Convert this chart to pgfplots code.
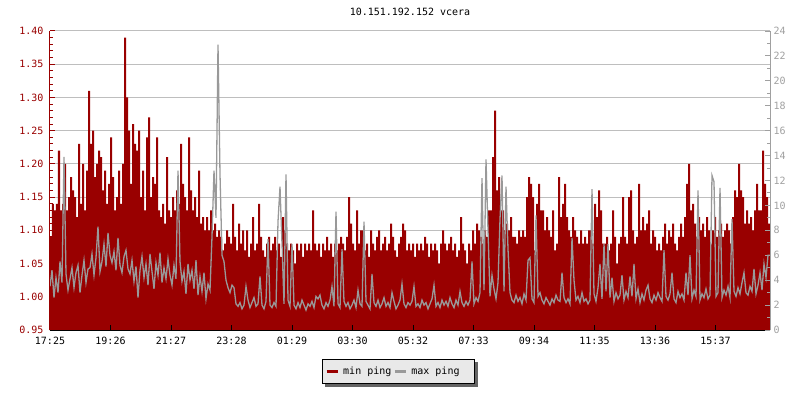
\documentclass[border=0pt]{standalone}
\usepackage{fontspec}
\setmainfont{DejaVu Sans Mono}
\usepackage{pgfplots}
\usepackage{pgfplotstable}
\pgfplotsset{compat=1.18}
\usetikzlibrary{backgrounds}
\definecolor{minred}{HTML}{990000}
\definecolor{maxgray}{HTML}{999999}
\definecolor{gridgray}{HTML}{BEBEBE}
\definecolor{rightgray}{HTML}{A0A0A0}
\definecolor{legbg}{HTML}{E9E9E9}
\definecolor{shadowgray}{HTML}{646464}
\pgfplotstableread[row sep=\\]{
t mn mx\\
0 1.09 3.5\\ 1 1.14 4.8\\ 2 1.13 2.6\\ 3 1.14 4.2\\ 4 1.22 3.0\\ 5 1.13 5.5\\ 6 1.14 3.8\\ 7 1.20 13.9\\ 8 1.13 4.5\\ 9 1.15 3.2\\
10 1.18 4.1\\ 11 1.16 5.0\\ 12 1.15 3.4\\ 13 1.12 4.6\\ 14 1.23 5.2\\ 15 1.14 3.0\\ 16 1.20 4.4\\ 17 1.13 5.6\\ 18 1.19 3.8\\ 19 1.31 4.9\\
20 1.23 5.0\\ 21 1.25 6.1\\ 22 1.18 4.4\\ 23 1.20 5.8\\ 24 1.22 8.3\\ 25 1.21 4.7\\ 26 1.16 5.5\\ 27 1.19 6.9\\ 28 1.14 5.1\\ 29 1.17 7.8\\
30 1.24 6.0\\ 31 1.18 5.4\\ 32 1.13 6.3\\ 33 1.15 4.8\\ 34 1.19 7.4\\ 35 1.14 5.2\\ 36 1.20 4.6\\ 37 1.39 5.9\\ 38 1.30 6.4\\ 39 1.25 4.9\\
40 1.17 4.5\\ 41 1.26 5.6\\ 42 1.23 3.9\\ 43 1.22 5.1\\ 44 1.25 2.6\\ 45 1.15 4.8\\ 46 1.19 5.9\\ 47 1.13 4.2\\ 48 1.24 5.3\\ 49 1.27 3.6\\
50 1.15 6.1\\ 51 1.18 4.7\\ 52 1.17 3.3\\ 53 1.24 5.4\\ 54 1.13 4.4\\ 55 1.12 6.2\\ 56 1.14 3.8\\ 57 1.11 5.0\\ 58 1.21 4.1\\ 59 1.13 5.7\\
60 1.12 4.4\\ 61 1.15 3.6\\ 62 1.13 5.2\\ 63 1.16 4.1\\ 64 1.14 12.8\\ 65 1.23 5.5\\ 66 1.17 3.9\\ 67 1.15 4.7\\ 68 1.13 2.9\\ 69 1.24 5.3\\
70 1.16 4.0\\ 71 1.13 4.8\\ 72 1.15 3.3\\ 73 1.12 5.6\\ 74 1.19 2.8\\ 75 1.11 4.3\\ 76 1.12 3.1\\ 77 1.10 4.6\\ 78 1.12 2.5\\ 79 1.10 3.7\\
80 1.13 3.2\\ 81 1.10 7.5\\ 82 1.11 12.8\\ 83 1.09 9.0\\ 84 1.10 22.9\\ 85 1.09 12.5\\ 86 1.07 6.0\\ 87 1.08 5.5\\ 88 1.10 4.0\\ 89 1.09 3.4\\
90 1.08 3.0\\ 91 1.14 3.6\\ 92 1.09 3.4\\ 93 1.07 2.1\\ 94 1.11 1.9\\ 95 1.08 2.2\\ 96 1.10 1.7\\ 97 1.07 2.0\\ 98 1.10 3.5\\ 99 1.06 2.4\\
100 1.08 1.8\\ 101 1.12 2.2\\ 102 1.07 2.6\\ 103 1.08 1.9\\ 104 1.14 2.1\\ 105 1.09 4.3\\ 106 1.07 2.0\\ 107 1.06 1.7\\ 108 1.08 2.3\\ 109 1.09 7.3\\
110 1.07 2.0\\ 111 1.08 1.8\\ 112 1.09 2.2\\ 113 1.07 1.9\\ 114 1.08 8.7\\ 115 1.06 11.5\\ 116 1.12 6.9\\ 117 1.10 2.1\\ 118 1.08 12.5\\ 119 1.07 2.4\\
120 1.08 1.9\\ 121 1.07 6.9\\ 122 1.05 2.0\\ 123 1.08 1.7\\ 124 1.07 2.2\\ 125 1.08 1.8\\ 126 1.06 2.4\\ 127 1.08 2.0\\ 128 1.07 1.6\\ 129 1.08 2.1\\
130 1.07 1.9\\ 131 1.13 2.3\\ 132 1.08 1.8\\ 133 1.07 2.7\\ 134 1.08 2.5\\ 135 1.06 2.8\\ 136 1.08 2.0\\ 137 1.07 1.7\\ 138 1.09 2.2\\ 139 1.07 1.9\\
140 1.08 2.4\\ 141 1.06 3.5\\ 142 1.08 1.9\\ 143 1.07 9.5\\ 144 1.08 2.1\\ 145 1.09 1.8\\ 146 1.08 6.5\\ 147 1.07 2.3\\ 148 1.09 1.9\\ 149 1.15 2.2\\
150 1.11 1.7\\ 151 1.08 2.0\\ 152 1.07 2.4\\ 153 1.13 1.8\\ 154 1.08 3.2\\ 155 1.10 2.1\\ 156 1.10 1.9\\ 157 1.07 8.7\\ 158 1.08 2.3\\ 159 1.06 2.0\\
160 1.10 1.7\\ 161 1.08 4.5\\ 162 1.07 2.2\\ 163 1.09 1.9\\ 164 1.10 2.4\\ 165 1.07 1.8\\ 166 1.08 2.1\\ 167 1.09 2.6\\ 168 1.07 1.9\\ 169 1.08 2.2\\
170 1.11 1.8\\ 171 1.09 3.0\\ 172 1.07 2.3\\ 173 1.06 1.7\\ 174 1.08 2.0\\ 175 1.09 2.4\\ 176 1.11 3.7\\ 177 1.10 2.1\\ 178 1.07 1.8\\ 179 1.08 2.2\\
180 1.07 2.0\\ 181 1.08 2.3\\ 182 1.06 3.5\\ 183 1.08 1.9\\ 184 1.07 2.1\\ 185 1.08 1.8\\ 186 1.07 2.4\\ 187 1.09 2.0\\ 188 1.08 2.2\\ 189 1.06 1.7\\
190 1.08 2.1\\ 191 1.07 2.5\\ 192 1.08 3.6\\ 193 1.07 1.9\\ 194 1.05 2.2\\ 195 1.08 1.8\\ 196 1.10 2.4\\ 197 1.08 2.0\\ 198 1.07 2.3\\ 199 1.08 1.9\\
200 1.09 2.6\\ 201 1.07 2.1\\ 202 1.08 1.8\\ 203 1.06 2.4\\ 204 1.07 2.0\\ 205 1.12 3.1\\ 206 1.08 2.2\\ 207 1.07 1.9\\ 208 1.05 2.3\\ 209 1.08 2.0\\
210 1.07 2.4\\ 211 1.10 5.5\\ 212 1.08 2.1\\ 213 1.11 2.6\\ 214 1.10 2.3\\ 215 1.09 3.0\\ 216 1.08 12.2\\ 217 1.10 3.2\\ 218 1.09 13.7\\ 219 1.13 8.0\\
220 1.13 2.7\\ 221 1.21 4.4\\ 222 1.28 3.3\\ 223 1.16 2.5\\ 224 1.18 3.8\\ 225 1.13 8.9\\ 226 1.13 12.4\\ 227 1.10 3.1\\ 228 1.11 11.5\\ 229 1.10 6.5\\
230 1.12 3.0\\ 231 1.09 2.4\\ 232 1.09 2.2\\ 233 1.08 2.8\\ 234 1.10 2.3\\ 235 1.09 2.6\\ 236 1.10 2.1\\ 237 1.09 2.9\\ 238 1.15 2.4\\ 239 1.18 5.6\\
240 1.17 5.8\\ 241 1.15 2.5\\ 242 1.07 2.2\\ 243 1.14 9.2\\ 244 1.17 2.7\\ 245 1.13 3.0\\ 246 1.13 2.4\\ 247 1.10 2.1\\ 248 1.12 2.6\\ 249 1.10 2.3\\
250 1.09 2.0\\ 251 1.13 2.5\\ 252 1.07 2.2\\ 253 1.08 2.8\\ 254 1.18 2.4\\ 255 1.12 2.3\\ 256 1.14 4.6\\ 257 1.17 2.6\\ 258 1.12 2.2\\ 259 1.10 2.5\\
260 1.09 2.1\\ 261 1.12 7.4\\ 262 1.10 4.0\\ 263 1.09 2.4\\ 264 1.08 2.7\\ 265 1.10 2.2\\ 266 1.08 3.0\\ 267 1.09 2.3\\ 268 1.08 2.5\\ 269 1.10 2.1\\
270 1.10 2.4\\ 271 1.08 11.3\\ 272 1.14 2.9\\ 273 1.12 2.3\\ 274 1.16 3.4\\ 275 1.13 5.3\\ 276 1.08 2.5\\ 277 1.08 6.9\\ 278 1.09 3.1\\ 279 1.07 6.9\\
280 1.08 2.6\\ 281 1.13 4.2\\ 282 1.09 2.3\\ 283 1.05 3.0\\ 284 1.08 2.5\\ 285 1.09 2.8\\ 286 1.15 4.4\\ 287 1.09 2.4\\ 288 1.08 3.1\\ 289 1.15 2.6\\
290 1.16 4.3\\ 291 1.10 2.7\\ 292 1.08 5.3\\ 293 1.09 2.5\\ 294 1.17 3.3\\ 295 1.10 2.2\\ 296 1.12 2.9\\ 297 1.10 2.4\\ 298 1.11 3.2\\ 299 1.13 3.6\\
300 1.08 2.5\\ 301 1.10 2.2\\ 302 1.09 2.8\\ 303 1.07 2.4\\ 304 1.08 3.0\\ 305 1.07 2.6\\ 306 1.09 2.3\\ 307 1.11 6.4\\ 308 1.08 2.7\\ 309 1.10 2.4\\
310 1.09 2.9\\ 311 1.11 4.6\\ 312 1.08 2.5\\ 313 1.07 2.2\\ 314 1.09 3.1\\ 315 1.11 2.6\\ 316 1.09 2.9\\ 317 1.12 2.4\\ 318 1.17 4.6\\ 319 1.20 2.8\\
320 1.13 6.0\\ 321 1.14 2.5\\ 322 1.11 3.2\\ 323 1.09 2.7\\ 324 1.12 11.2\\ 325 1.10 2.4\\ 326 1.11 2.9\\ 327 1.09 2.6\\ 328 1.12 3.3\\ 329 1.10 2.5\\
330 1.08 2.8\\ 331 1.10 12.4\\ 332 1.12 11.9\\ 333 1.09 2.7\\ 334 1.10 3.0\\ 335 1.11 11.4\\ 336 1.09 2.6\\ 337 1.10 3.2\\ 338 1.11 2.8\\ 339 1.10 3.5\\
340 1.08 2.6\\ 341 1.12 8.9\\ 342 1.16 3.1\\ 343 1.15 2.7\\ 344 1.20 3.4\\ 345 1.16 2.9\\ 346 1.15 3.8\\ 347 1.11 4.6\\ 348 1.13 3.0\\ 349 1.11 2.8\\
350 1.12 3.5\\ 351 1.10 3.1\\ 352 1.13 4.9\\ 353 1.17 2.9\\ 354 1.13 3.6\\ 355 1.13 4.6\\ 356 1.22 3.2\\ 357 1.17 5.3\\ 358 1.15 4.2\\ 359 1.11 6.0\\
360 1.11 6.0\\
}\pingdata
\pgfplotsset{
  base/.style={
    at={(50pt,70pt)}, anchor=south west, scale only axis,
    width=720pt, height=299pt, xmin=0, xmax=360,
    tick label style={font=\fontsize{10}{12}\selectfont},
  }
}
\begin{document}
\begin{tikzpicture}[x=1pt,y=1pt]
\useasboundingbox (0,0) rectangle (800,400);
\begin{axis}[base, ymin=0.95, ymax=1.40,
  ytick={0.95,1.00,1.05,1.10,1.15,1.20,1.25,1.30,1.35,1.40},
  yticklabels={}, y tick label style={opacity=0}, xtick=\empty,
  ymajorgrids, major grid style={gridgray, line width=1pt},
  axis line style={draw=none}, major tick length=0pt,
  title={10.151.192.152 vcera},
  title style={font=\fontsize{10}{12}\selectfont, anchor=center, at={(0.5,1)}, yshift=13pt}]
\end{axis}
\begin{axis}[base, ymin=0.95, ymax=1.40, axis on top,
  axis x line*=bottom, axis y line*=left,
  x axis line style={black, line width=1pt, -},
  y axis line style={minred, line width=1pt, -},
  tick align=inside, major tick length=5pt, minor tick length=3pt,
  xtick={0,30.25,60.5,90.75,121,151.25,181.5,211.75,242,272.25,302.5,332.75},
  xticklabels={17:25,19:26,21:27,23:28,01:29,03:30,05:32,07:33,09:34,11:35,13:36,15:37},
  xticklabel style={yshift=-4pt},
  x tick style={black, line width=1pt},
  ytick={0.95,1.00,1.05,1.10,1.15,1.20,1.25,1.30,1.35,1.40},
  minor y tick num=4,
  y tick style={minred, line width=1pt},
  yticklabel={\pgfmathprintnumber[fixed,fixed zerofill,precision=2,assume math mode=true]{\tick}},
  yticklabel style={text=minred, xshift=-3pt},
]
\addplot[const plot, fill=minred, draw=none] table[x=t, y=mn] {\pingdata} \closedcycle;
\end{axis}
\begin{axis}[base, ymin=0, ymax=24,
  axis x line=none, axis y line*=right,
  y axis line style={rightgray, line width=1pt, -},
  tick align=inside, major tick length=5pt, minor tick length=3pt,
  ytick={0,2,...,24}, minor y tick num=1,
  y tick style={rightgray, line width=1pt},
  yticklabel={\pgfmathprintnumber[assume math mode=true]{\tick}},
  yticklabel style={text=rightgray},
  legend columns=2,
  legend image code/.code={\draw[#1, line width=3pt] (0pt,0pt) -- (11pt,0pt);},
  legend style={name=pinglegend, at={(0.3778,-0.097)}, anchor=north west, draw=black,
    fill=legbg, font=\fontsize{10}{12}\selectfont,
    inner xsep=3pt, inner ysep=5.5pt,
    /tikz/every odd column/.append style={column sep=2pt},
    /tikz/every even column/.append style={column sep=0pt}},
]
\addlegendimage{minred}
\addlegendentry{min ping}
\addplot[maxgray, line width=1.3pt] table[x=t, y=mx] {\pingdata};
\addlegendentry{max ping\kern10pt}
\end{axis}
\begin{scope}[on background layer]
\fill[shadowgray] ([xshift=3pt,yshift=-3pt]pinglegend.south west) rectangle ([xshift=3pt,yshift=-3pt]pinglegend.north east);
\end{scope}
\end{tikzpicture}
\end{document}
